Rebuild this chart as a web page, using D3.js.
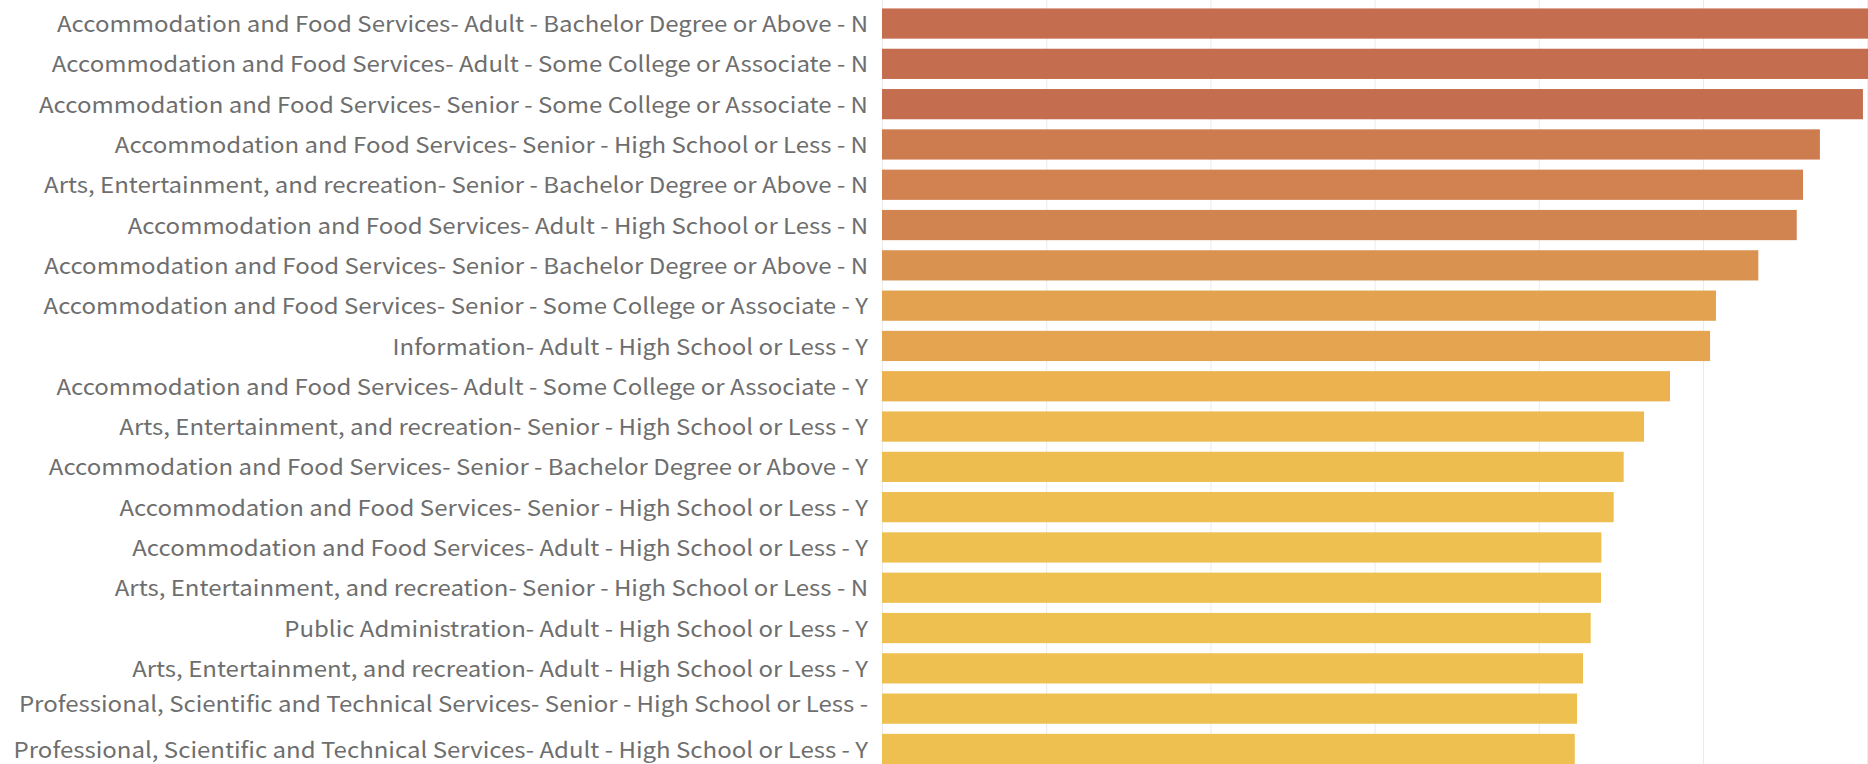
<!DOCTYPE html>
<html>
<head>
<meta charset="utf-8">
<script src="https://cdn.jsdelivr.net/npm/d3@7"></script>
<style>
  html, body { margin: 0; padding: 0; background: #ffffff; overflow: hidden; }
  svg { display: block; }
</style>
</head>
<body>
<svg id="chart"></svg>
<script>
// Industry - age group - education - flag combinations, sorted by value
const categories = [
  "Accommodation and Food Services- Adult - Bachelor Degree or Above - N",
  "Accommodation and Food Services- Adult - Some College or Associate - N",
  "Accommodation and Food Services- Senior - Some College or Associate - N",
  "Accommodation and Food Services- Senior - High School or Less - N",
  "Arts, Entertainment, and recreation- Senior - Bachelor Degree or Above - N",
  "Accommodation and Food Services- Adult - High School or Less - N",
  "Accommodation and Food Services- Senior - Bachelor Degree or Above - N",
  "Accommodation and Food Services- Senior - Some College or Associate - Y",
  "Information- Adult - High School or Less - Y",
  "Accommodation and Food Services- Adult - Some College or Associate - Y",
  "Arts, Entertainment, and recreation- Senior - High School or Less - Y",
  "Accommodation and Food Services- Senior - Bachelor Degree or Above - Y",
  "Accommodation and Food Services- Senior - High School or Less - Y",
  "Accommodation and Food Services- Adult - High School or Less - Y",
  "Arts, Entertainment, and recreation- Senior - High School or Less - N",
  "Public Administration- Adult - High School or Less - Y",
  "Arts, Entertainment, and recreation- Adult - High School or Less - Y",
  "Professional, Scientific and Technical Services- Senior - High School or Less -",
  "Professional, Scientific and Technical Services- Adult - High School or Less - Y"
];

const values = [
  30900, 30500, 29870, 28560, 28045, 27855, 26685, 25395, 25215, 23995,
  23205, 22585, 22280, 21905, 21895, 21580, 21345, 21165, 21095
];

const gridTicks = [0, 5000, 10000, 15000, 20000, 25000, 30000];

const W = 1868, H = 764;
const svg = d3.select("#chart").attr("width", W).attr("height", H);

const x = d3.scaleLinear().domain([0, 30000]).range([882, 1867.2]);
const y = d3.scaleBand()
  .domain(categories)
  .range([3.4, 3.4 + categories.length * 40.3])
  .paddingInner(0.25)
  .paddingOuter(0.125);

// sequential gold -> rust colouring by value
const colour = d3.scaleLinear()
  .domain([22000, 23000, 24000, 25300, 26700, 28200, 29800])
  .range(["#edc050", "#efbb50", "#ecb250", "#e4a350", "#d99250", "#d08050", "#c46d4f"])
  .clamp(true);

// vertical gridlines
const grid = svg.append("g")
  .attr("class", "grid")
  .call(d3.axisTop(x).tickValues(gridTicks).tickSize(-H).tickFormat(""));
grid.select(".domain").remove();
grid.selectAll(".tick line").attr("stroke", "#ebebeb").attr("stroke-width", 1);

const rows = categories.map((c, i) => ({ label: c, value: values[i] }));

// bars
svg.append("g")
  .selectAll("rect")
  .data(rows)
  .join("rect")
  .attr("x", x(0))
  .attr("y", d => y(d.label))
  .attr("width", d => x(d.value) - x(0))
  .attr("height", y.bandwidth())
  .attr("fill", d => colour(d.value));

// row labels (right-aligned against the bars)
const fontSize = 22;
const capHalf = fontSize * 0.366;
// a label whose last word wrapped to a hidden second line sits higher in its row
const wrapShift = d => d.label.endsWith(" -") ? -5.5 : 0;

const labels = svg.append("g")
  .selectAll("text")
  .data(rows)
  .join("text")
  .attr("x", 868)
  .attr("y", d => y(d.label) + y.bandwidth() / 2 + capHalf + 0.5 + wrapShift(d))
  .attr("text-anchor", "end")
  .attr("font-family", "'Noto Sans CJK JP', 'Open Sans', sans-serif")
  .attr("font-size", fontSize)
  .attr("fill", "#6e6e6e")
  .text(d => d.label);

// stretch glyphs uniformly to the label column's type width
const refWidth = labels.nodes()[0].getComputedTextLength();
const stretch = 811 / refWidth;
labels.each(function () {
  const w = this.getComputedTextLength();
  d3.select(this)
    .attr("textLength", w * stretch)
    .attr("lengthAdjust", "spacingAndGlyphs");
});
</script>
</body>
</html>
